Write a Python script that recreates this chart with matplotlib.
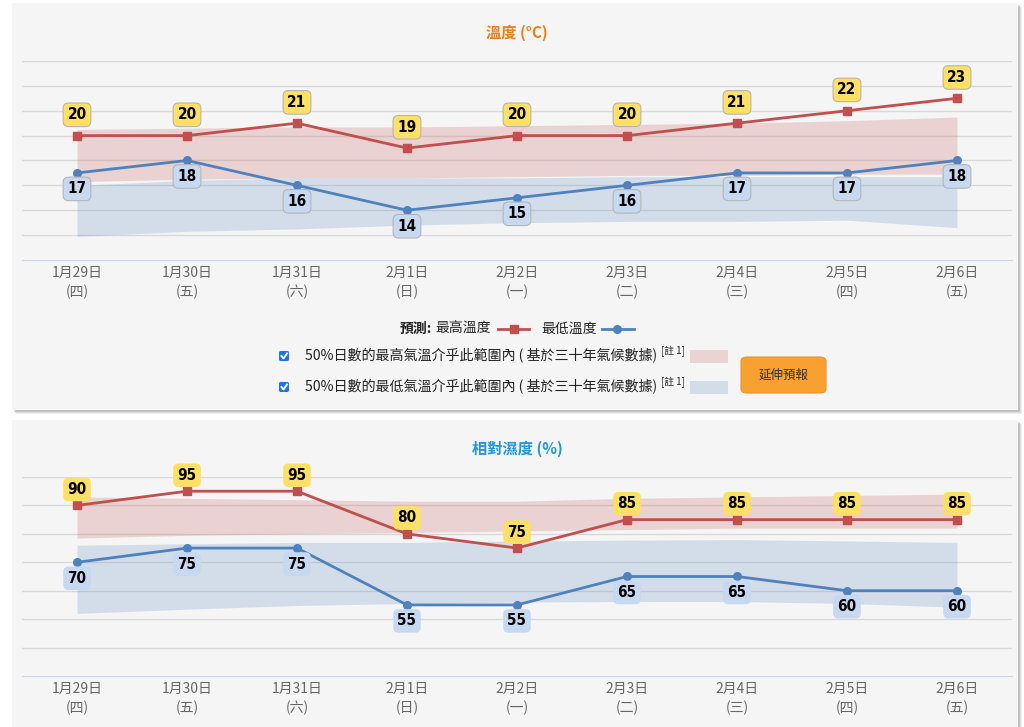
import matplotlib.pyplot as plt
from matplotlib.patches import Rectangle, FancyBboxPatch
from matplotlib.lines import Line2D

plt.rcParams['font.family'] = ['Noto Sans CJK TC', 'DejaVu Sans']

W, H = 1024, 727

days = ['1月29日', '1月30日', '1月31日', '2月1日', '2月2日', '2月3日', '2月4日', '2月5日', '2月6日']
weekdays = ['四', '五', '六', '日', '一', '二', '三', '四', '五']

temp_max = [20, 20, 21, 19, 20, 20, 21, 22, 23]
temp_min = [17, 18, 16, 14, 15, 16, 17, 17, 18]
# 50% climatological ranges
tmax_hi = [20.5, 20.6, 20.7, 20.7, 20.8, 20.9, 21.0, 21.2, 21.5]
tmax_lo = [16.3, 16.5, 16.6, 16.6, 16.7, 16.8, 16.8, 16.9, 16.9]
tmin_hi = [16.0, 16.4, 16.6, 16.6, 16.6, 16.7, 16.7, 16.7, 16.7]
tmin_lo = [11.9, 12.3, 12.5, 12.8, 13.0, 13.1, 13.1, 13.2, 12.6]

rh_max = [90, 95, 95, 80, 75, 85, 85, 85, 85]
rh_min = [70, 75, 75, 55, 55, 65, 65, 60, 60]
rhmax_hi = [93.0, 92.5, 92.0, 91.5, 91.5, 92.5, 93.0, 93.5, 94.0]
rhmax_lo = [78.5, 79.5, 80.0, 80.5, 81.0, 81.5, 82.0, 82.0, 82.0]
rhmin_hi = [76.0, 76.5, 77.0, 77.0, 77.5, 77.8, 78.0, 77.5, 77.0]
rhmin_lo = [52.0, 53.5, 54.8, 55.5, 56.0, 56.2, 56.2, 55.5, 54.2]

RED = '#c0504d'
BLUE = '#4f81bd'
CARD = '#f5f5f5'
NUM_FONT = dict(family='DejaVu Sans', stretch='condensed', fontweight='bold', fontsize=11)


def rect(x0, y0, x1, y1):
    return [x0 / W, 1 - y1 / H, (x1 - x0) / W, (y1 - y0) / H]


def fx(x):
    return x / W


def fy(y):
    return 1 - y / H


fig = plt.figure(figsize=(W / 100, H / 100), dpi=100)
fig.patch.set_facecolor('white')

# cards with a soft shadow
for y0, y1 in [(3, 410), (420, 740)]:
    for k, a in [(4, 0.08), (3, 0.12), (2, 0.2)]:
        fig.patches.append(Rectangle((fx(12 + k), fy(y1 + k)), (1006) / W, (y1 - y0) / H,
                                     transform=fig.transFigure, fc='#555555', ec='none', alpha=a, zorder=0))
    fig.patches.append(Rectangle((fx(12), fy(y1)), 1006 / W, (y1 - y0) / H,
                                 transform=fig.transFigure, fc=CARD, ec='none', zorder=0.5))

labels = [f'{d}\n({w})' for d, w in zip(days, weekdays)]
x = list(range(len(days)))


def panel(box, ylim, ystep, title, tcolor, vmax, vmin, mx_hi, mx_lo, mn_hi, mn_lo, up, dn, border):
    ax = fig.add_axes(rect(*box))
    ax.set_zorder(2)
    ax.set_facecolor('none')
    ax.set_xlim(-0.5, len(days) - 0.5)
    ax.set_ylim(*ylim)
    for v in range(ylim[0] + ystep, ylim[1] + 1, ystep):
        ax.axhline(v, color='#d9d9d9', lw=1, zorder=0)
    for s in ['top', 'right', 'left']:
        ax.spines[s].set_visible(False)
    ax.spines['bottom'].set_color('#ccd6eb')
    ax.set_yticks([])
    ax.set_xticks(x)
    ax.set_xticklabels(labels, fontsize=10, color='#666666', linespacing=1.45)
    ax.tick_params(axis='x', length=0, pad=4)

    ax.fill_between(x, mx_lo, mx_hi, color=RED, alpha=0.21, lw=0, zorder=1)
    ax.fill_between(x, mn_lo, mn_hi, color=BLUE, alpha=0.2, lw=0, zorder=1)
    ax.plot(x, vmax, color=RED, lw=2, marker='s', ms=6, zorder=3)
    ax.plot(x, vmin, color=BLUE, lw=2, marker='o', ms=5.5, zorder=3)

    ec = '#b5b5b5' if border else 'none'
    for i, v in enumerate(vmax):
        ax.annotate(str(v), (i, v), xytext=(0, up), textcoords='offset points',
                    ha='center', va='center', color='black', zorder=5, **NUM_FONT,
                    bbox=dict(boxstyle='round,pad=0.28,rounding_size=0.35', fc='#ffe066', ec=ec, lw=0.8))
    for i, v in enumerate(vmin):
        ax.annotate(str(v), (i, v), xytext=(0, -dn), textcoords='offset points',
                    ha='center', va='center', color='black', zorder=5, **NUM_FONT,
                    bbox=dict(boxstyle='round,pad=0.28,rounding_size=0.35', fc='#c6d9f0', ec=ec, lw=0.8))
    fig.text(fx(517), fy(box[1] - 28), title, ha='center', va='center',
             fontsize=11, fontweight='bold', color=tcolor)
    return ax


panel((22, 61, 1012, 260), (10, 26), 2, '溫度 (°C)', '#ee7d14',
      temp_max, temp_min, tmax_hi, tmax_lo, tmin_hi, tmin_lo, 15, 11.5, True)
panel((22, 477, 1012, 676), (30, 100), 10, '相對濕度 (%)', '#2196d8',
      rh_max, rh_min, rhmax_hi, rhmax_lo, rhmin_hi, rhmin_lo, 11.5, 11.5, False)

# legend row
ly = fy(329)
fig.text(fx(400), ly, '預測:', fontsize=10, fontweight='bold', va='center', color='#222222')
fig.text(fx(435), ly, '最高溫度', fontsize=10, va='center', color='#222222')
fig.add_artist(Line2D([fx(498), fx(529)], [ly, ly], color=RED, lw=2, marker='', transform=fig.transFigure))
fig.add_artist(Line2D([fx(514)], [ly], color=RED, marker='s', ms=6, transform=fig.transFigure))
fig.text(fx(541), ly, '最低溫度', fontsize=10, va='center', color='#222222')
fig.add_artist(Line2D([fx(602), fx(634)], [ly, ly], color=BLUE, lw=2, transform=fig.transFigure))
fig.add_artist(Line2D([fx(617)], [ly], color=BLUE, marker='o', ms=5.5, transform=fig.transFigure))

band_text = ['50%日數的最高氣溫介乎此範圍內 ( 基於三十年氣候數據)',
             '50%日數的最低氣溫介乎此範圍內 ( 基於三十年氣候數據)']
band_color = [RED, BLUE]
for yy, txt, c in zip([356, 387], band_text, band_color):
    # checkbox
    fig.patches.append(FancyBboxPatch((fx(279), fy(yy + 5)), 10 / W, 10 / H,
                                      boxstyle='round,pad=0,rounding_size=0.002',
                                      transform=fig.transFigure, fc='#1a73e8', ec='none', zorder=2))
    fig.add_artist(Line2D([fx(281.5), fx(283.5), fx(287)], [fy(yy), fy(yy + 2.5), fy(yy - 2.5)],
                          color='white', lw=1.4, transform=fig.transFigure, zorder=3))
    fig.text(fx(305), fy(yy), txt, fontsize=10.1, va='center', color='#222222')
    fig.text(fx(661), fy(yy - 5), '[註 1]', fontsize=7, va='center', color='#222222')
    fig.patches.append(Rectangle((fx(690), fy(yy + 6.5)), 38 / W, 13 / H,
                                 transform=fig.transFigure, fc=c, alpha=0.2, ec='none', zorder=2))

# extended forecast button
fig.patches.append(FancyBboxPatch((fx(741), fy(393)), 85 / W, 36 / H,
                                  boxstyle='round,pad=0,rounding_size=0.006',
                                  transform=fig.transFigure, fc='#f8a030', ec='#e8952a', lw=0.8, zorder=2))
fig.text(fx(783.5), fy(375.5), '延伸預報', ha='center', va='center', fontsize=9, color='#333333', zorder=3)

fig.savefig('out.png', dpi=100, facecolor='white')
